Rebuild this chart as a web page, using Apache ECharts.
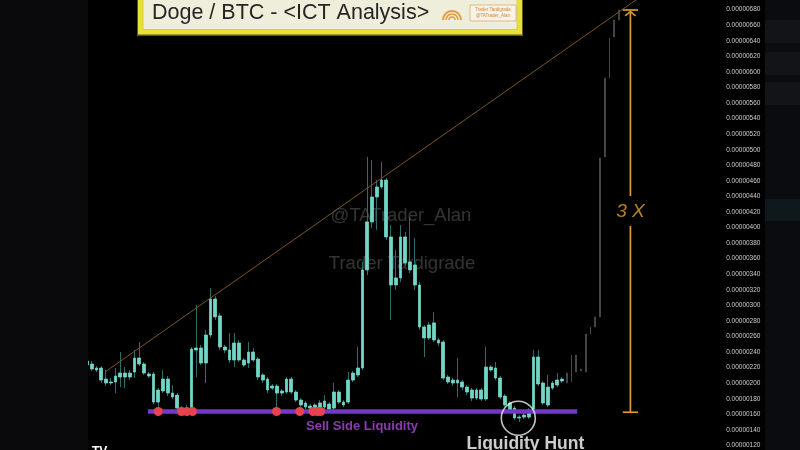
<!DOCTYPE html>
<html><head><meta charset="utf-8">
<script src="https://cdn.jsdelivr.net/npm/echarts@6/dist/echarts.min.js"></script>
<style>html,body{margin:0;padding:0;background:#000;}#c{width:800px;height:450px;}</style>
</head><body><div id="c"></div>
<script>
// Values in units of 1e-8 BTC (satoshi)
const titleText = 'Doge / BTC - <ICT Analysis>';
const yMin = 120, yMax = 680, yStep = 20;
const slotCount = 134; // categories incl. empty right space
// [open, close, low, high]
const candleOHLC = [
[228.5,223.3,220.7,232.3],[224.6,218.2,215.6,228.5],[219.5,216.9,214.3,222.0],[219.5,204.0,200.2,222.0],
[205.3,200.2,196.3,216.9],[200.2,201.5,197.6,206.6],[201.5,209.2,187.3,219.5],[207.9,213.0,195.0,240.0],
[213.0,207.9,193.7,220.7],[207.9,213.0,204.0,216.9],[214.3,232.3,206.6,242.6],[232.3,224.6,222.0,252.9],
[224.6,213.0,210.5,227.2],[211.8,209.2,206.6,214.3],[211.8,175.7,173.2,214.3],[175.7,191.2,165.4,193.7],
[189.9,205.3,187.3,216.9],[205.3,187.3,183.4,209.2],[187.3,182.2,179.6,197.6],[184.7,168.0,165.4,187.3],
[168.0,164.2,161.6,170.6],[164.2,166.7,161.6,171.9],[165.4,243.9,162.9,246.5],[242.6,245.2,207.9,300.5],
[245.2,225.9,223.3,249.1],[225.9,261.9,200.2,268.4],[261.9,308.2,258.1,322.3],[308.2,285.1,281.2,312.0],
[286.4,246.5,242.6,290.2],[246.5,242.6,238.8,249.1],[242.6,229.8,225.9,264.4],[229.8,251.6,220.7,264.4],
[251.6,229.8,227.2,255.5],[229.8,223.3,220.7,232.3],[225.9,240.0,219.5,252.9],[240.0,229.8,227.2,245.2],
[231.0,207.9,204.0,233.6],[210.5,204.0,200.2,213.0],[205.3,191.2,187.3,207.9],[196.3,193.7,191.2,198.9],
[187.3,196.3,165.4,198.9],[189.9,187.3,183.4,192.5],[188.6,205.3,186.0,207.9],[205.3,188.6,186.0,207.9],
[188.6,178.3,175.7,191.2],[178.3,171.9,165.4,180.9],[174.5,169.3,166.7,177.0],[170.6,168.0,166.7,173.2],
[168.0,171.9,164.2,174.5],[168.0,174.5,164.2,178.3],[169.3,177.0,164.2,184.7],[173.2,166.7,165.4,175.7],
[168.0,188.6,165.4,200.2],[188.6,175.7,173.2,191.2],[175.7,171.9,169.3,178.3],[175.7,204.0,173.2,214.3],
[204.0,213.0,201.5,215.6],[210.5,219.5,207.9,246.5],[219.5,345.5,216.9,355.8],[345.5,407.2,339.0,490.7],
[407.2,439.3,399.5,486.9],[439.3,452.1,396.9,461.1],[452.1,461.1,449.6,484.3],[461.1,387.9,384.0,463.7],
[387.9,326.2,281.2,403.3],[326.2,335.2,319.8,371.2],[335.2,387.9,330.0,403.3],[387.9,354.5,350.6,394.3],
[355.8,345.5,341.6,413.6],[351.9,326.2,319.8,386.6],[326.2,272.2,268.4,330.0],[272.2,258.1,233.6,274.8],
[258.1,274.8,255.5,278.6],[277.4,255.5,252.9,291.5],[255.5,251.6,247.8,258.1],[252.9,206.6,204.0,255.5],
[207.9,201.5,198.9,210.5],[204.0,200.2,196.3,206.6],[200.2,204.0,182.2,232.3],[201.5,195.0,191.2,204.0],
[195.0,188.6,184.7,197.6],[191.2,180.9,177.0,193.7],[180.9,191.2,178.3,193.7],[191.2,179.6,177.0,193.7],
[179.6,220.7,177.0,246.5],[220.7,216.9,214.3,223.3],[219.5,206.6,204.0,227.2],[206.6,182.2,179.6,209.2],
[183.4,171.9,169.3,186.0],[174.5,165.4,162.9,177.0],[168.0,155.2,152.6,170.6],[155.2,156.4,150.0,159.0],
[156.4,159.0,153.9,161.6],[156.4,165.4,153.9,168.0],[165.4,233.6,162.9,242.6],[233.6,198.9,196.3,242.6],
[200.2,174.5,171.9,202.7],[171.9,195.0,169.3,210.5],[193.7,200.2,191.2,202.7],[197.6,204.0,195.0,213.0],
[202.7,205.3,200.2,207.9]
];
// projected move (grey)
const projectionOHLC = [
[200.2,213.0,200.2,213.0],[201.5,236.2,201.5,236.2],[236.2,214.3,214.3,236.2],[215.6,218.2,215.6,218.2],
[214.3,263.2,214.3,263.2],[263.2,272.2,263.2,272.2],[272.2,285.1,272.2,285.1],[285.1,489.4,285.1,489.4],
[490.7,592.2,490.7,592.2],[592.2,643.7,592.2,643.7],[644.9,666.8,644.9,666.8],[666.8,679.6,666.8,679.6]
];
const liquidityLevel = 163.6;
const liquidityRange = [12.84, 103.2];
const sweepPoints = [15.0, 19.9, 21.0, 22.2, 39.9, 44.8, 47.6, 48.5, 49.2];
const trendLine = [[3.8, 214.4], [116.4, 696]];
const arrowX = 114.4, arrowTop = 679.6, arrowBottom = 162.6, arrowGap = [402, 440.6];
const capHalf = 1.6;
const huntCircle = [90.8, 154.9];
const labels = {
  sellSide: {pos: [57.9, 145], text: 'Sell Side Liquidity'},
  hunt: {pos: [92.3, 121.8], text: 'Liquidity Hunt'},
  threeX: {pos: [114.4, 420.5], text: '3 X'}
};

const categories = Array.from({length: slotCount}, (_, i) => String(i));
const empty = ['-','-','-','-'];
const bodyData = candleOHLC.map(d => [d[0], d[1], Math.min(d[0], d[1]), Math.max(d[0], d[1])]);
const projData = candleOHLC.map(() => empty).concat(projectionOHLC);

const FONT = "'Liberation Sans', Arial, sans-serif";
const teal = '#71d6c6', wick = '#2e6c6d', orange = '#dd9a2e', grey = '#4d4d4d';

function seg(data, color, width, extra) {
  return Object.assign({type: 'line', xAxisIndex: 1, yAxisIndex: 0, data: data, symbol: 'none',
    clip: false, silent: true, z: 5, lineStyle: {color: color, width: width}}, extra || {});
}
function txt(pos, text, style) {
  return {type: 'scatter', xAxisIndex: 1, yAxisIndex: 0, data: [pos], symbolSize: 1, silent: true, z: 8,
    itemStyle: {color: 'rgba(0,0,0,0)'},
    label: Object.assign({show: true, position: 'inside', formatter: text, fontFamily: FONT}, style)};
}

const chart = echarts.init(document.getElementById('c'), null, {renderer: 'canvas'});
chart.setOption({
  backgroundColor: '#000',
  animation: false,
  grid: {left: 84.625, right: 78.875, top: 9.7, bottom: 4.6, containLabel: false},
  xAxis: [
    {type: 'category', data: categories, boundaryGap: true, show: false},
    {type: 'value', min: -0.5, max: slotCount - 0.5, show: false}
  ],
  yAxis: {
    type: 'value', position: 'right', min: yMin, max: yMax, interval: yStep, scale: true,
    splitLine: {show: false}, axisTick: {show: false},
    axisLine: {show: true, lineStyle: {color: '#3a3a3a', width: 1}},
    axisLabel: {color: '#cfcfcf', fontSize: 6.5, margin: 5, fontFamily: FONT,
      formatter: v => (v / 1e8).toFixed(8)}
  },
  series: [
    {type: 'candlestick', name: 'wick', data: candleOHLC, barWidth: 1, silent: true, z: 2,
      itemStyle: {color: wick, color0: wick, borderColor: wick, borderColor0: wick, borderColorDoji: wick, borderWidth: 1}},
    {type: 'candlestick', name: 'body', data: bodyData, barWidth: 3.4, barMaxWidth: 10, silent: true, z: 3,
      itemStyle: {color: teal, color0: teal, borderColor: teal, borderColor0: teal, borderColorDoji: teal, borderWidth: 0.8}},
    {type: 'candlestick', name: 'projection', data: projData, barWidth: 1.4, silent: true, z: 3,
      itemStyle: {color: grey, color0: grey, borderColor: grey, borderColor0: grey, borderColorDoji: grey, borderWidth: 0.8}},
    seg(trendLine, '#7a5426', 1),
    seg(liquidityRange.map(x => [x, liquidityLevel]), '#7338c6', 4.3, {z: 6}),
    {type: 'scatter', xAxisIndex: 1, yAxisIndex: 0, silent: true, z: 7, symbolSize: 9,
      data: sweepPoints.map(x => [x, liquidityLevel]), itemStyle: {color: '#e5434d', opacity: 1}},
    seg([[arrowX, arrowTop - 1.2], [arrowX, arrowGap[1]]], orange, 1.7),
    seg([[arrowX, arrowGap[0]], [arrowX, arrowBottom]], orange, 1.7),
    seg([[arrowX - capHalf, arrowBottom], [arrowX + capHalf, arrowBottom]], orange, 1.7),
    seg([[arrowX - capHalf, arrowTop], [arrowX + capHalf, arrowTop]], orange, 1.7),
    seg([[arrowX - 1.1, arrowTop - 7.5], [arrowX, arrowTop - 2], [arrowX + 1.1, arrowTop - 7.5]], orange, 1.5),
    {type: 'scatter', xAxisIndex: 1, yAxisIndex: 0, silent: true, z: 8, symbolSize: 34, data: [huntCircle],
      itemStyle: {color: 'rgba(0,0,0,0)', borderColor: '#f2f2f2', borderWidth: 1.6}},
    txt(labels.sellSide.pos, labels.sellSide.text, {color: '#ad4ae0', fontSize: 13, fontWeight: 'bold'}),
    txt(labels.hunt.pos, labels.hunt.text, {color: '#ffffff', fontSize: 17.5, fontWeight: 'bold'}),
    txt(labels.threeX.pos, labels.threeX.text, {color: '#e6a234', fontSize: 19, fontStyle: 'italic'})
  ],
  graphic: [
    {type: 'text', z: 1, style: {text: '@TATrader_Alan', x: 401, y: 216, align: 'center', verticalAlign: 'middle',
      fill: 'rgba(255,255,255,0.2)', font: "18.5px " + FONT}},
    {type: 'text', z: 1, style: {text: 'Trader Tardigrade', x: 402, y: 264, align: 'center', verticalAlign: 'middle',
      fill: 'rgba(255,255,255,0.2)', font: "18.5px " + FONT}},
    {type: 'rect', z: 50, shape: {x: 0, y: 0, width: 88, height: 450}, style: {fill: '#0a0a0c'}},
    {type: 'text', z: 51, style: {text: 'TV', x: 92, y: 446, fill: '#ffffff', font: "bold 12px " + FONT}},
    {type: 'rect', z: 50, shape: {x: 765, y: 0, width: 35, height: 450}, style: {fill: '#0b0c0f'}},
    {type: 'rect', z: 51, shape: {x: 765, y: 20, width: 35, height: 23}, style: {fill: '#121418'}},
    {type: 'rect', z: 51, shape: {x: 765, y: 52, width: 35, height: 23}, style: {fill: '#121418'}},
    {type: 'rect', z: 51, shape: {x: 765, y: 82, width: 35, height: 23}, style: {fill: '#121418'}},
    {type: 'rect', z: 51, shape: {x: 765, y: 199, width: 35, height: 22}, style: {fill: '#0e181d'}},
    {type: 'rect', z: 100, shape: {x: 137, y: -5, width: 386, height: 41}, style: {fill: '#59581e'}},
    {type: 'rect', z: 101, shape: {x: 138, y: -5, width: 384, height: 39.5}, style: {fill: '#e8e13c'}},
    {type: 'rect', z: 102, shape: {x: 143, y: -5, width: 374, height: 34.5}, style: {fill: '#efeedb', stroke: '#cfc73a', lineWidth: 0.8}},
    {type: 'text', z: 103, style: {text: titleText, x: 152, y: 13.5, verticalAlign: 'middle', fill: '#252525', font: "21.5px " + FONT}},
    {type: 'arc', z: 103, shape: {cx: 452, cy: 20, r: 9, startAngle: Math.PI, endAngle: 2 * Math.PI}, style: {stroke: '#e49a3c', lineWidth: 2, fill: null}},
    {type: 'arc', z: 103, shape: {cx: 452, cy: 20, r: 6, startAngle: Math.PI, endAngle: 2 * Math.PI}, style: {stroke: '#e49a3c', lineWidth: 1.6, fill: null}},
    {type: 'arc', z: 103, shape: {cx: 452, cy: 20, r: 3, startAngle: Math.PI, endAngle: 2 * Math.PI}, style: {stroke: '#e49a3c', lineWidth: 1.4, fill: null}},
    {type: 'rect', z: 103, shape: {x: 470, y: 5, width: 46, height: 16}, style: {fill: '#f7f3e6', stroke: '#e2a86a', lineWidth: 0.8}},
    {type: 'text', z: 104, style: {text: 'Trader Tardigrade', x: 493, y: 10, align: 'center', verticalAlign: 'middle', fill: '#d4843c', font: "4.5px " + FONT}},
    {type: 'text', z: 104, style: {text: '@TATrader_Alan', x: 493, y: 16, align: 'center', verticalAlign: 'middle', fill: '#d4843c', font: "4.5px " + FONT}}
  ]
});
</script></body></html>
